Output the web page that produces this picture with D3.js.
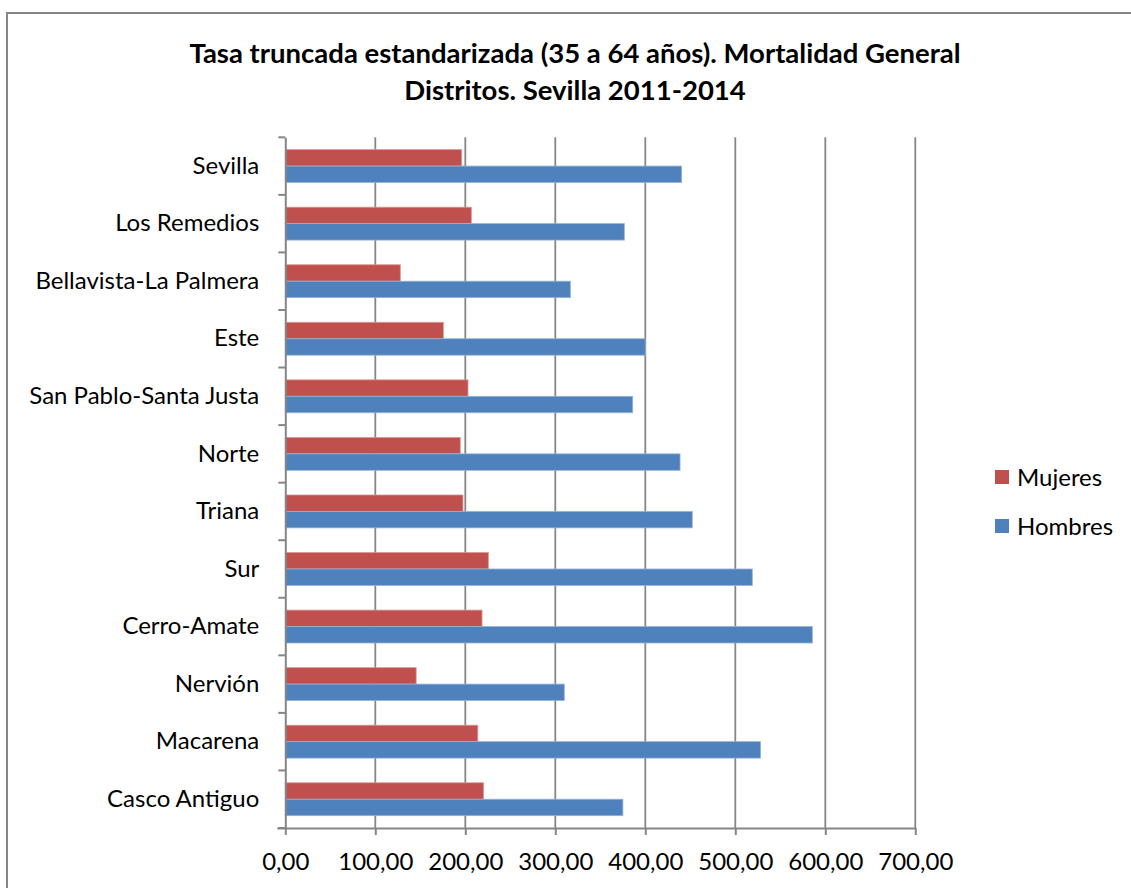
<!DOCTYPE html>
<html><head><meta charset="utf-8">
<script src="https://cdn.jsdelivr.net/npm/d3@7"></script>
<style>
html,body{margin:0;padding:0;background:#fff;}
svg text{font-family:Lato,"Open Sans",sans-serif;fill:#000;}
</style></head>
<body>
<svg id="chart" width="1131" height="888"></svg>
<script>
const titleLines = ["Tasa truncada estandarizada (35 a 64 años). Mortalidad General", "Distritos. Sevilla 2011-2014"];
const categories = ["Sevilla","Los Remedios","Bellavista-La Palmera","Este","San Pablo-Santa Justa","Norte","Triana","Sur","Cerro-Amate","Nervión","Macarena","Casco Antiguo"];
const seriesNames = ["Mujeres","Hombres"];
const mujeres = [196.0, 206.7, 127.8, 175.6, 203.0, 194.4, 197.4, 225.6, 218.6, 145.4, 213.9, 220.2];
const hombres = [440.4, 376.7, 316.7, 400.0, 386.0, 438.6, 452.2, 518.9, 585.6, 310.0, 528.1, 375.1];
const xTicks = [0,100,200,300,400,500,600,700];
const xTickLabels = ["0,00","100,00","200,00","300,00","400,00","500,00","600,00","700,00"];
const colors = {Mujeres:"#C0504D", Hombres:"#4F81BD"};
const strokes = {Mujeres:"#D99794", Hombres:"#95B3D7"};

(function(){
const svg = d3.select("#chart");
const gray = "#868686";

svg.append("rect").attr("x",7).attr("y",13).attr("width",1140).attr("height",900)
  .attr("fill","none").attr("stroke",gray).attr("stroke-width",2);

const pL = 285.3, pR = 915.3, pT = 137.3, pB = 828;
const x = d3.scaleLinear().domain([0,700]).range([pL,pR]);
const y = d3.scaleBand().domain(categories).range([pT,pB]).padding(0);
const sub = d3.scaleBand().domain(seriesNames).range([0,y.bandwidth()]).paddingInner(0).paddingOuter(0.75);

svg.append("g").selectAll("line").data(xTicks.filter(d=>d>0)).join("line")
  .attr("x1",d=>x(d)).attr("x2",d=>x(d)).attr("y1",pT).attr("y2",pB)
  .attr("stroke",gray).attr("stroke-width",1.8);

const data = categories.map((c,i)=>({cat:c, Mujeres:mujeres[i], Hombres:hombres[i]}));
const groups = svg.append("g").selectAll("g").data(data).join("g")
  .attr("transform",d=>`translate(0,${y(d.cat)})`);
groups.selectAll("rect").data(d=>seriesNames.map(s=>({s, v:d[s]}))).join("rect")
  .attr("x",x(0)).attr("y",d=>sub(d.s)).attr("width",d=>x(d.v)-x(0)).attr("height",sub.bandwidth())
  .attr("fill",d=>colors[d.s]).attr("stroke",d=>strokes[d.s]).attr("stroke-width",0.8);

const yAxis = d3.axisLeft(y).tickSize(0).tickPadding(26);
const gy = svg.append("g").attr("transform",`translate(${pL},0)`).call(yAxis);
gy.select(".domain").attr("stroke",gray).attr("stroke-width",2);
gy.selectAll("text").style("font-size","24px").attr("fill","#000");
const bounds = categories.map(c=>y(c)).concat([pB]);
svg.append("g").selectAll("line").data(bounds).join("line")
  .attr("x1",pL-7).attr("x2",pL).attr("y1",d=>d).attr("y2",d=>d)
  .attr("stroke",gray).attr("stroke-width",2);

const xAxis = d3.axisBottom(x).tickValues(xTicks).tickFormat((d,i)=>xTickLabels[i]).tickSize(7).tickSizeOuter(0).tickPadding(18);
const gx = svg.append("g").attr("transform",`translate(0,${pB})`).call(xAxis);
gx.select(".domain").attr("stroke",gray).attr("stroke-width",2).attr("d",`M${pL-8},0.5H${pR}`);
gx.selectAll(".tick line").attr("stroke",gray).attr("stroke-width",2);
gx.selectAll("text").style("font-size","24px").attr("fill","#000");

const tl = svg.append("g");
tl.append("text").attr("x",575).attr("y",63).attr("text-anchor","middle")
  .style("font-size","27.5px").style("font-weight","bold").text(titleLines[0]);
tl.append("text").attr("x",575).attr("y",100).attr("text-anchor","middle")
  .style("font-size","27.5px").style("font-weight","bold").text(titleLines[1]);

const lg = svg.append("g").attr("transform","translate(995,470)");
seriesNames.forEach((s,i)=>{
  const g = lg.append("g").attr("transform",`translate(0,${i*49})`);
  g.append("rect").attr("width",14).attr("height",14).attr("fill",colors[s]);
  g.append("text").attr("x",22).attr("y",16).style("font-size","24px").text(s);
});
})();
</script>
</body></html>
